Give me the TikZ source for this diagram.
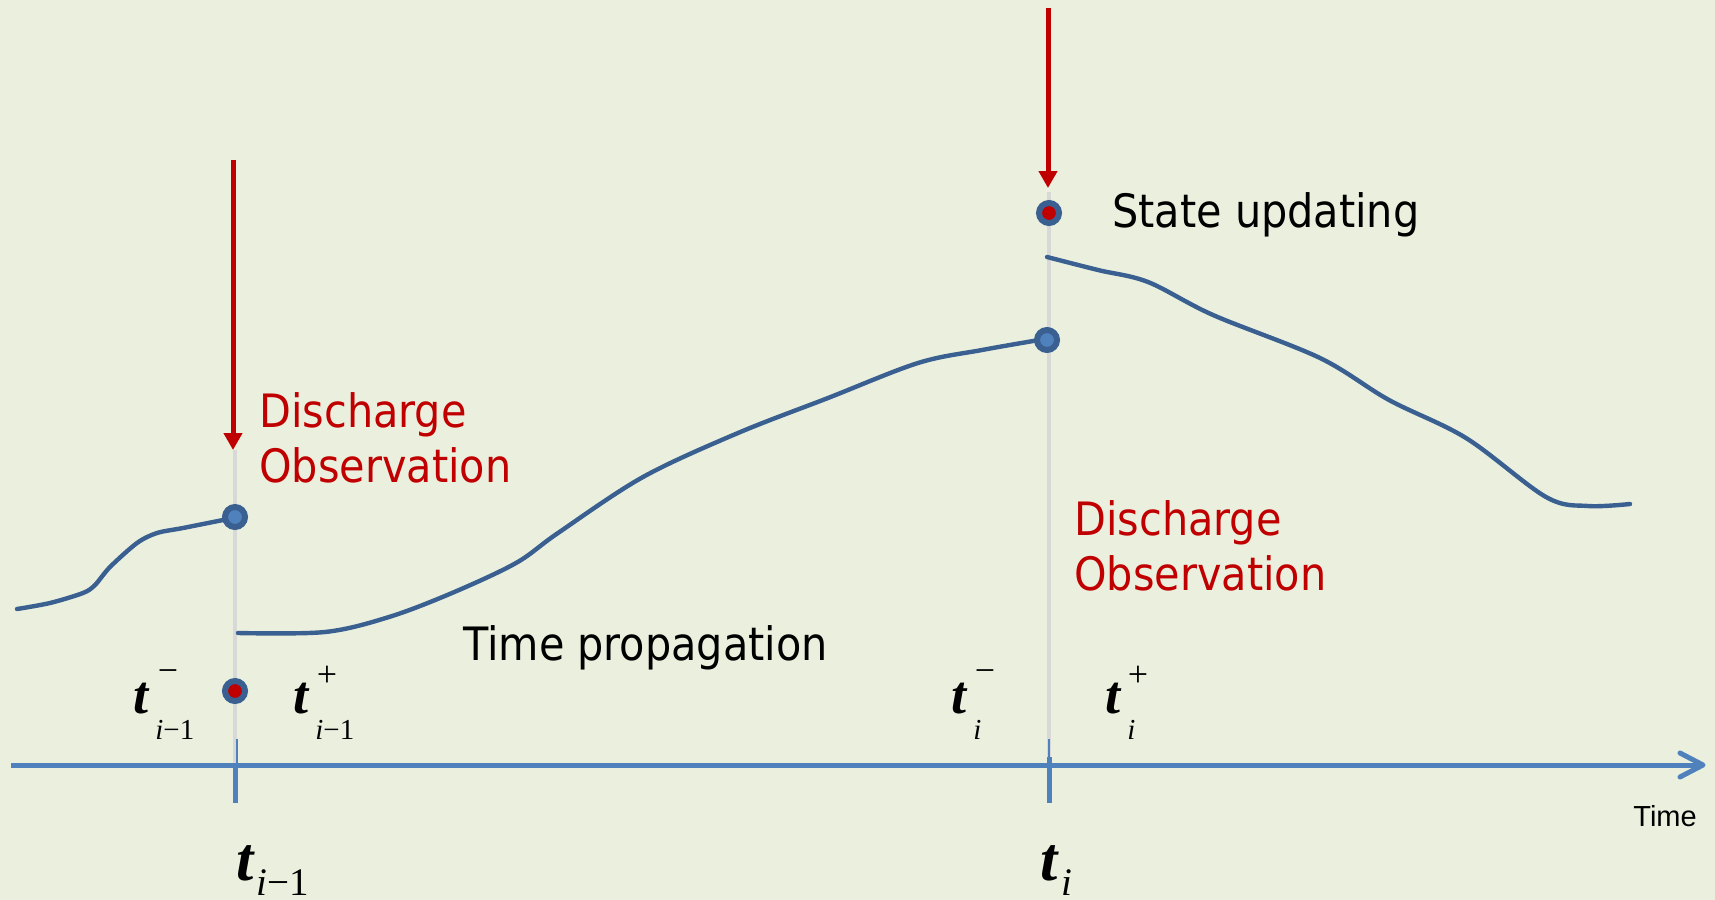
\documentclass[tikz,border=0pt]{standalone}
\usepackage{fontspec}
\setmainfont{DejaVu Sans Condensed}
\newfontfamily\tms{Liberation Serif}
\newfontfamily\arl{Liberation Sans}
\usetikzlibrary{arrows.meta}
\definecolor{bg}{RGB}{235,240,222}
\definecolor{curveblue}{RGB}{58,95,145}
\definecolor{axisblue}{RGB}{79,129,189}
\definecolor{obsred}{RGB}{192,0,0}
\definecolor{guidegrey}{RGB}{216,216,216}
\begin{document}
\begin{tikzpicture}[x=0.5pt,y=-0.5pt,
  guideline/.style={draw=guidegrey, line width=2.2pt},
  trace/.style={draw=curveblue, line width=2.2pt, line cap=round, line join=round},
  obsarrow/.style={draw=obsred, line width=2.5pt, -{Triangle[length=8.5pt,width=9pt]}},
  axisline/.style={draw=axisblue, line width=2.5pt},
  dotblue/.style={circle, draw=curveblue, fill=axisblue, line width=3pt, minimum size=10pt, inner sep=0pt},
  dotred/.style={circle, draw=curveblue, fill=obsred, line width=3pt, minimum size=10pt, inner sep=0pt},
  lab/.style={font=\fontsize{23pt}{27.5pt}\selectfont, inner sep=0pt, anchor=base west, align=left},
  tbig/.style={font=\fontsize{27pt}{32pt}\selectfont\tms\bfseries\itshape, inner sep=0pt, anchor=base west},
  tsml/.style={font=\fontsize{14.5pt}{17pt}\selectfont\tms, inner sep=0pt, anchor=base west},
  tmark/.style={font=\fontsize{18pt}{21pt}\selectfont\tms, inner sep=0pt, anchor=center},
  tbot/.style={font=\fontsize{31pt}{36pt}\selectfont\tms\bfseries\itshape, inner sep=0pt, anchor=base west},
  tbotsub/.style={font=\fontsize{19.5pt}{23pt}\selectfont\tms, inner sep=0pt, anchor=base west}
]
\fill[bg] (0,0) rectangle (1715,900);
\useasboundingbox (0,0) rectangle (1715,900);

% guide lines
\coordinate (g1top) at (235,450);
\coordinate (g1bot) at (235,768);
\coordinate (g2top) at (1049,192);
\coordinate (g2bot) at (1049,768);
\draw[guideline] (g1top) -- (g1bot);
\draw[guideline] (g2top) -- (g2bot);

% axis
\coordinate (ax0) at (11,765);
\coordinate (ax1) at (1703,765);
\draw[axisline] (ax0) -- (ax1);
\draw[axisline, line cap=round, line join=round] (ax1) ++(-23,-12) -- (ax1) -- +(-23,12);

% ticks
\coordinate (tk1) at (235,765);
\coordinate (tk2) at (1049,765);
\draw[axisline] (tk1) -- +(0,38);
\draw[axisblue, line width=0.6pt] (tk1) ++(2,0) -- +(0,-26);
\draw[axisline] (tk2) ++(0,-8) -- +(0,46);
\draw[axisblue, line width=0.6pt] (tk2) -- +(0,-26);

% observation arrows
\coordinate (a1s) at (233,160);
\coordinate (a1e) at (233,450);
\coordinate (a2s) at (1048,8);
\coordinate (a2e) at (1048,188);
\draw[obsarrow] (a1s) -- (a1e);
\draw[obsarrow] (a2s) -- (a2e);

% curves
\draw[trace] plot[smooth, tension=0.5] coordinates {(17,609) (50,603) (83,593) (95,585) (110,567) (137,543) (157,533) (183,528) (233,518)};
\draw[trace] plot[smooth, tension=0.55] coordinates {(238,633) (325,632) (389,617) (452,593) (516,563) (558,533) (643,477) (738,433) (828,398) (918,363) (982,350) (1045,339)};
\draw[trace] plot[smooth, tension=0.55] coordinates {(1047,257) (1098,270) (1148,282) (1213,315) (1320,358) (1389,400) (1466,438) (1546,497) (1588,506) (1630,504)};

% dots
\node[dotblue] (d1) at (235,517) {};
\node[dotred]  (d2) at (235,691) {};
\node[dotred]  (d3) at (1049,213) {};
\node[dotblue] (d4) at (1047,340) {};

% texts (base anchor = baseline of the last line)
\node[lab, text=obsred] (obs1) at (259,482) {Discharge\\Observation};
\node[lab, text=obsred] (obs2) at (1074,590) {Discharge\\Observation};
\node[lab] (upd) at (1112,227) {State updating};
\node[lab] (prop) at (463,660) {Time propagation};
\node[font=\fontsize{14.5pt}{17pt}\selectfont\arl, inner sep=0pt, anchor=base west] (tlab) at (1633,826) {Time};

% time labels
\node[tbig] (t1m) at (133,713) {t};
\node[tmark] (t1ms) at (168,676) {−};
\node[tsml] (t1mb) at (155,739) {\itshape i\upshape −1};
\node[tbig] (t1p) at (293,713) {t};
\node[tmark] (t1ps) at (327,676) {+};
\node[tsml] (t1pb) at (315,739) {\itshape i\upshape −1};
\node[tbig] (t2m) at (951,713) {t};
\node[tmark] (t2ms) at (985,676) {−};
\node[tsml] (t2mb) at (973,739) {\itshape i};
\node[tbig] (t2p) at (1105,713) {t};
\node[tmark] (t2ps) at (1138,676) {+};
\node[tsml] (t2pb) at (1127,739) {\itshape i};
\node[tbot] (tb1) at (236,880) {t};
\node[tbotsub] (tb1s) at (256,895) {\itshape i\upshape −1};
\node[tbot] (tb2) at (1040,880) {t};
\node[tbotsub] (tb2s) at (1061,895) {\itshape i};
\end{tikzpicture}
\end{document}
